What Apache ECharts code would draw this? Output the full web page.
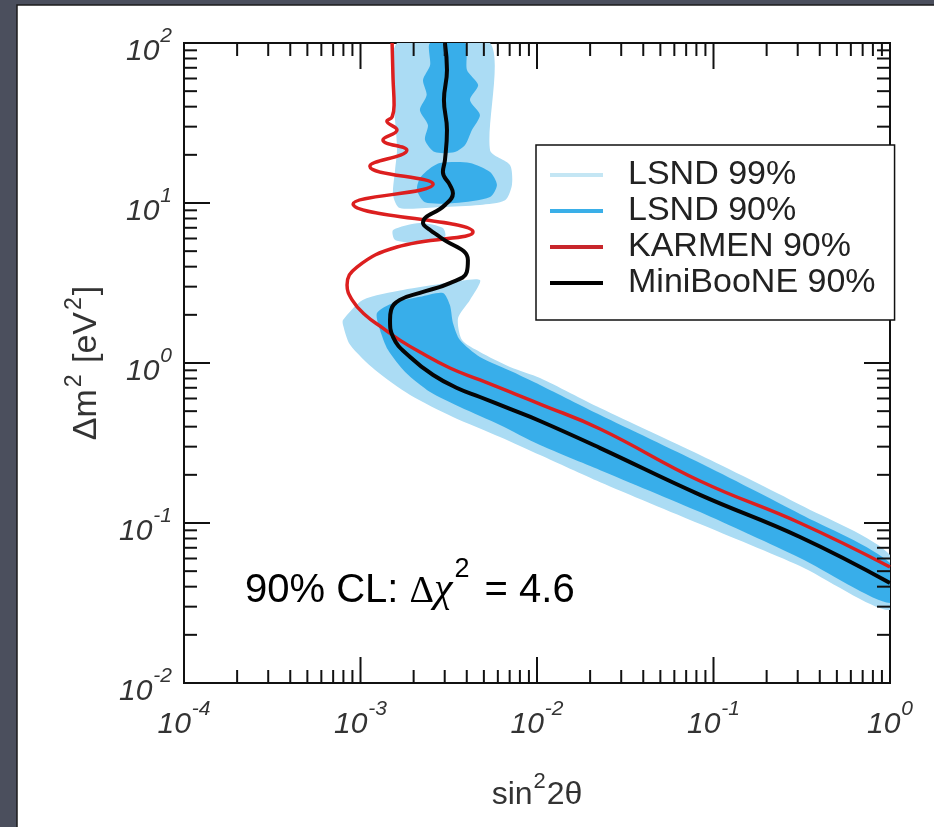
<!DOCTYPE html>
<html>
<head>
<meta charset="utf-8">
<title>LSND / KARMEN / MiniBooNE</title>
<script src="https://cdn.jsdelivr.net/npm/echarts@6/dist/echarts.min.js"></script>
<style>
    html, body { margin: 0; padding: 0; background: #4b4f5d; overflow: hidden; }
    #myChart { width: 934px; height: 827px; }
</style>
</head>
<body>
<div id="myChart"></div>
<script>
/* sin^2 2theta vs delta m^2 exclusion plot */
var X_MIN = 1e-4, X_MAX = 1;
var Y_MIN = 1e-2, Y_MAX = 100;

// tick values
var xMajorTicks = [1e-4, 1e-3, 1e-2, 1e-1, 1];
var yMajorTicks = [1e-2, 1e-1, 1, 10, 100];
var minorSteps = [2, 3, 4, 5, 6, 7, 8, 9];

// LSND 99% region (three pieces)
var lsnd99Top = [[1.61e-3, 100], [5.42e-3, 100], [5.42e-3, 21.4], [7.03e-3, 17.3], [7.21e-3, 12.96], [6.59e-3, 10.4],
    [4.75e-3, 9.72], [2.82e-3, 9.44], [1.67e-3, 9.30], [1.53e-3, 11.2], [1.57e-3, 16.1], [1.61e-3, 21.4]];
var lsnd99Blob = [[1.53e-3, 6.78], [2.17e-3, 7.50], [2.93e-3, 6.98], [3.01e-3, 6.13], [2.17e-3, 5.62], [1.57e-3, 5.87]];
var lsnd99Low = [[7.96e-4, 1.86], [1.03e-3, 2.48], [1.74e-3, 2.86], [3.09e-3, 3.16], [4.75e-3, 3.30], [4.17e-3, 2.48],
    [3.57e-3, 1.91], [3.76e-3, 1.39], [4.75e-3, 1.17], [7.03e-3, 0.944], [1.04e-2, 0.806], [2.28e-2, 0.523],
    [8.39e-2, 0.266], [0.309, 0.130], [1, 0.063],
    [1, 0.0286], [0.309, 0.0539], [8.39e-2, 0.0986], [2.28e-2, 0.180], [1.04e-2, 0.266], [6.17e-3, 0.345],
    [3.34e-3, 0.460], [1.91e-3, 0.631], [1.21e-3, 0.904], [8.73e-4, 1.30], [7.96e-4, 1.73]];

// LSND 90% region (three pieces)
var lsnd90Top = [[2.48e-3, 100], [3.91e-3, 100], [4.01e-3, 67.8], [4.64e-3, 54.6], [4.17e-3, 44.0], [4.75e-3, 35.5],
    [4.28e-3, 28.6], [3.91e-3, 23.0], [3.43e-3, 20.8], [2.64e-3, 20.8], [2.32e-3, 24.8], [2.41e-3, 30.7],
    [2.17e-3, 38.1], [2.37e-3, 47.3], [2.26e-3, 58.7], [2.48e-3, 72.9]];
var lsnd90Blob = [[2.82e-3, 17.8], [4.17e-3, 17.8], [5.42e-3, 15.6], [5.93e-3, 12.96], [5.42e-3, 10.9], [3.43e-3, 10.0],
    [2.32e-3, 10.1], [2.09e-3, 12.05], [2.17e-3, 14.3], [2.48e-3, 16.5]];
var lsnd90Low = [[1.24e-3, 2.05], [1.53e-3, 2.37], [2.17e-3, 2.59], [2.93e-3, 2.74], [3.21e-3, 2.30], [3.34e-3, 1.78],
    [3.66e-3, 1.39], [4.75e-3, 1.09], [7.31e-3, 0.879], [1.04e-2, 0.729], [2.28e-2, 0.473], [8.39e-2, 0.237],
    [0.309, 0.114], [1, 0.0562],
    [1, 0.0316], [0.309, 0.0604], [8.39e-2, 0.117], [2.28e-2, 0.214], [1.04e-2, 0.307], [6.17e-3, 0.410],
    [3.66e-3, 0.531], [2.48e-3, 0.659], [1.79e-3, 0.879], [1.43e-3, 1.21], [1.29e-3, 1.61]];

// KARMEN 90% limit
var karmen90 = [[1.51e-3, 100], [1.53e-3, 58.7], [1.55e-3, 41.0], [1.51e-3, 34.5], [1.41e-3, 32.5], [1.61e-3, 28.6],
    [1.34e-3, 24.8], [1.83e-3, 21.4], [1.13e-3, 17.0], [2.58e-3, 13.1], [9.08e-4, 9.86], [4.34e-3, 6.59],
    [1.61e-3, 5.31], [9.55e-4, 3.98], [8.39e-4, 3.07], [8.96e-4, 2.48], [1.06e-3, 2.0], [1.34e-3, 1.65],
    [1.67e-3, 1.39], [2.17e-3, 1.17], [3.21e-3, 0.931], [4.75e-3, 0.783], [7.03e-3, 0.659], [1.04e-2, 0.554],
    [2.28e-2, 0.387], [8.39e-2, 0.183], [0.309, 0.1], [1, 0.0531]];

// MiniBooNE 90% limit
var miniboone90 = [[3.01e-3, 100], [3.09e-3, 67.8], [2.97e-3, 44.0], [3.09e-3, 28.6], [3.01e-3, 18.6], [2.93e-3, 15.6],
    [3.21e-3, 12.96], [3.34e-3, 11.5], [3.01e-3, 9.72], [2.26e-3, 7.50], [2.48e-3, 6.78], [2.82e-3, 6.13],
    [4.06e-3, 4.40], [4.00e-3, 3.70], [3.21e-3, 3.16], [2.17e-3, 2.74], [1.67e-3, 2.48], [1.49e-3, 2.14],
    [1.47e-3, 1.86], [1.53e-3, 1.45], [1.91e-3, 1.09], [2.58e-3, 0.841], [3.52e-3, 0.698], [4.75e-3, 0.613],
    [7.03e-3, 0.516], [1.04e-2, 0.434], [2.28e-2, 0.294], [8.39e-2, 0.150], [0.309, 0.0818], [1, 0.0422]];

var legendNames = ['LSND 99%', 'LSND 90%', 'KARMEN 90%', 'MiniBooNE 90%'];

var myChart = echarts.init(document.getElementById('myChart'));

function $each(arr, fn) { for (var i = 0; i < arr.length; i++) fn(arr[i]); }

function expLabel(v) {
    var e = Math.round(Math.log(v) / Math.LN10);
    return '{b|10}{s|' + e + '}';
}

function minorOf(majors) {
    var out = [];
    for (var i = 0; i < majors.length - 1; i++) {
        for (var j = 0; j < minorSteps.length; j++) {
            out.push(majors[i] * minorSteps[j]);
        }
    }
    return out;
}

var tickLabelRich = {
    b: { fontSize: 30, lineHeight: 30, verticalAlign: 'bottom', fontStyle: 'italic', color: '#333', fontFamily: 'Liberation Sans' },
    s: { fontSize: 21, padding: [0, 0, 20, 1], fontStyle: 'italic', color: '#333', fontFamily: 'Liberation Sans' }
};

function tickStyle() {
    return { stroke: '#111', lineWidth: 2 };
}

// x ticks on bottom and top, pointing inside
function renderXTick(params, api) {
    var v = api.value(0);
    var len = api.value(2) ? 26 : 13;
    var b = api.coord([v, Y_MIN]);
    var t = api.coord([v, Y_MAX]);
    return {
        type: 'group', children: [
            { type: 'line', shape: { x1: b[0], y1: b[1], x2: b[0], y2: b[1] - len }, style: tickStyle() },
            { type: 'line', shape: { x1: t[0], y1: t[1], x2: t[0], y2: t[1] + len }, style: tickStyle() }
        ]
    };
}

// y ticks on left and right, pointing inside
function renderYTick(params, api) {
    var v = api.value(1);
    var len = api.value(2) ? 26 : 13;
    var l = api.coord([X_MIN, v]);
    var r = api.coord([X_MAX, v]);
    return {
        type: 'group', children: [
            { type: 'line', shape: { x1: l[0], y1: l[1], x2: l[0] + len, y2: l[1] }, style: tickStyle() },
            { type: 'line', shape: { x1: r[0], y1: r[1], x2: r[0] - len, y2: r[1] }, style: tickStyle() }
        ]
    };
}

function regionSeries(name, polys, color, z) {
    var all = [];
    $each(polys, function (p) { all = all.concat(p); });
    return {
        name: name,
        type: 'custom',
        coordinateSystem: 'cartesian2d',
        data: all,
        encode: { x: 0, y: 1 },
        z: z,
        silent: true,
        clip: true,
        itemStyle: { color: color },
        renderItem: function (params, api) {
            if (params.dataIndex !== 0) return null;
            var children = [];
            $each(polys, function (p) {
                var pts = [];
                $each(p, function (pt) { pts.push(api.coord(pt)); });
                children.push({ type: 'polygon', shape: { points: pts, smooth: 0.25 }, style: { fill: color } });
            });
            return { type: 'group', children: children };
        }
    };
}

// [x, y, major?]
var xTicks = [];
$each(xMajorTicks, function (v) { xTicks.push([v, Y_MIN, 1]); });
$each(minorOf(xMajorTicks), function (v) { xTicks.push([v, Y_MIN, 0]); });
var yTicks = [];
$each(yMajorTicks, function (v) { yTicks.push([X_MIN, v, 1]); });
$each(minorOf(yMajorTicks), function (v) { yTicks.push([X_MIN, v, 0]); });

var option = {
    backgroundColor: 'transparent',
    animation: false,
    graphic: [{
        type: 'rect',
        z: -10,
        shape: { x: 17, y: 5, width: 1000, height: 900 },
        style: { fill: '#fff', stroke: '#1c1c1c', lineWidth: 1.5 }
    }, {
        type: 'text',
        left: 245,
        top: 556,
        z: 10,
        style: {
            text: '{a|90% CL: }{g|Δ}{c|χ}{s|2}{a| = 4.6}',
            rich: {
                a: { fontSize: 40, lineHeight: 40, verticalAlign: 'bottom', color: '#111', fontFamily: 'Liberation Sans' },
                g: { fontSize: 38, lineHeight: 40, verticalAlign: 'bottom', color: '#111', fontFamily: 'Liberation Serif' },
                c: { fontSize: 42, lineHeight: 40, verticalAlign: 'bottom', color: '#111', fontStyle: 'italic', fontFamily: 'Liberation Serif' },
                s: { fontSize: 27, padding: [0, 4, 28, 2], color: '#111', fontFamily: 'Liberation Sans' }
            }
        }
    }],
    grid: {
        left: 184, top: 43, width: 706, height: 640,
        show: true, borderColor: '#111', borderWidth: 2, backgroundColor: 'transparent'
    },
    legend: {
        data: [
            { name: legendNames[0], itemStyle: { color: '#c4e6f4' } },
            { name: legendNames[1], itemStyle: { color: '#3aafe8' } },
            { name: legendNames[2], itemStyle: { color: '#c8262b' } },
            { name: legendNames[3], itemStyle: { color: '#000' } }
        ],
        orient: 'vertical',
        left: 536, top: 145,
        icon: 'rect',
        itemWidth: 53, itemHeight: 4,
        itemGap: 0,
        padding: [12, 19, 19, 14],
        backgroundColor: '#fff',
        borderColor: '#111', borderWidth: 1.5, borderRadius: 0,
        selectedMode: false,
        textStyle: { fontSize: 34, lineHeight: 36, color: '#222', fontFamily: 'Liberation Sans', padding: [0, 0, 0, 20] },
        z: 20
    },
    xAxis: {
        type: 'log', logBase: 10, min: X_MIN, max: X_MAX, splitNumber: 4,
        axisLine: { show: false }, axisTick: { show: false }, splitLine: { show: false },
        axisLabel: { formatter: expLabel, margin: 16, rich: tickLabelRich, hideOverlap: false, showMinLabel: true, showMaxLabel: true },
        name: '{n|sin}{s|2}{n|2θ}',
        nameLocation: 'middle', nameGap: 88,
        nameTextStyle: {
            rich: {
                n: { fontSize: 32, lineHeight: 32, verticalAlign: 'bottom', color: '#333', fontFamily: 'Liberation Sans' },
                s: { fontSize: 22, padding: [0, 1, 18, 1], color: '#333', fontFamily: 'Liberation Sans' }
            }
        }
    },
    yAxis: {
        type: 'log', logBase: 10, min: Y_MIN, max: Y_MAX, splitNumber: 4,
        axisLine: { show: false }, axisTick: { show: false }, splitLine: { show: false },
        axisLabel: { formatter: expLabel, margin: 12, padding: [6, 0, 0, 0], rich: tickLabelRich, hideOverlap: false, showMinLabel: true, showMaxLabel: true },
        name: '{n|Δm}{s|2}{n| [eV}{s|2}{n|]}',
        nameLocation: 'middle', nameRotate: 90, nameGap: 80,
        nameTextStyle: {
            rich: {
                n: { fontSize: 34, lineHeight: 34, verticalAlign: 'bottom', color: '#333', fontFamily: 'Liberation Sans' },
                s: { fontSize: 23, padding: [0, 2, 18, 2], color: '#333', fontFamily: 'Liberation Sans' }
            }
        }
    },
    series: [
        regionSeries(legendNames[0], [lsnd99Top, lsnd99Blob, lsnd99Low], '#abdcf4', 1),
        regionSeries(legendNames[1], [lsnd90Top, lsnd90Blob, lsnd90Low], '#38aeea', 2),
        {
            name: legendNames[2], type: 'line', data: karmen90, z: 3,
            showSymbol: false, smooth: 0.45, silent: true, clip: true,
            itemStyle: { color: '#dc1f1f' },
            lineStyle: { color: '#dc1f1f', width: 3.5 }
        },
        {
            name: legendNames[3], type: 'line', data: miniboone90, z: 4,
            showSymbol: false, smooth: 0.45, silent: true, clip: true,
            itemStyle: { color: '#000' },
            lineStyle: { color: '#050505', width: 4 }
        },
        {
            type: 'custom', coordinateSystem: 'cartesian2d', renderItem: renderXTick,
            data: xTicks, encode: { x: 0, y: 1 }, z: 5, silent: true
        },
        {
            type: 'custom', coordinateSystem: 'cartesian2d', renderItem: renderYTick,
            data: yTicks, encode: { x: 0, y: 1 }, z: 5, silent: true
        }
    ]
};

myChart.setOption(option);
</script>
</body>
</html>
